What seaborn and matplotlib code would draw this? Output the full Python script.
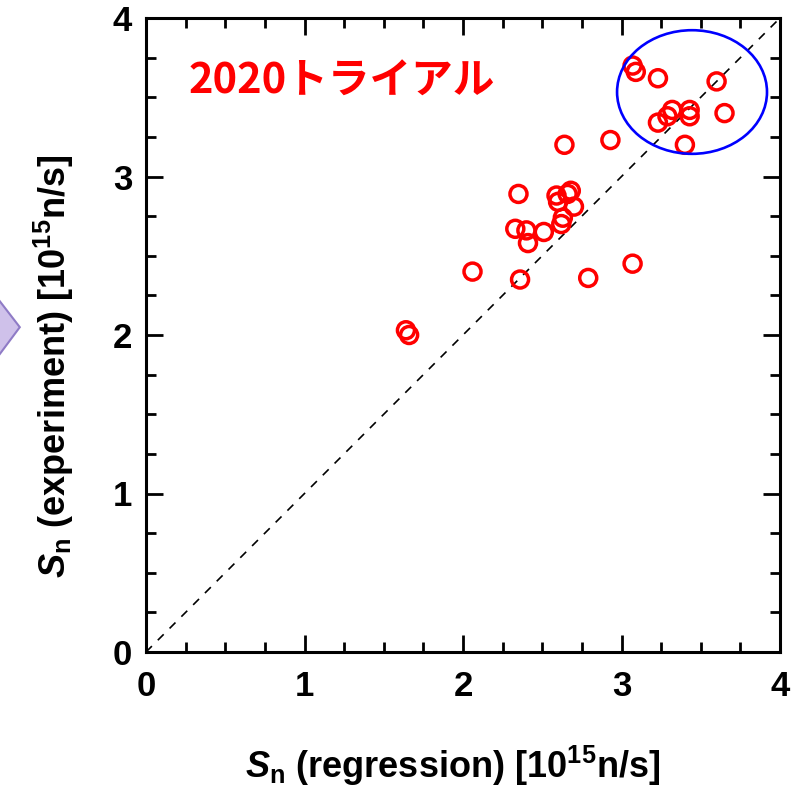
import matplotlib
matplotlib.use("Agg")
import matplotlib.pyplot as plt
from matplotlib.patches import Ellipse, Polygon
from matplotlib.ticker import MultipleLocator, FixedFormatter, FixedLocator
import seaborn as sns
import pandas as pd

# ---- data ----
s_regression = [1.64, 1.66, 2.06, 2.36, 2.79, 3.07, 2.33, 2.40, 2.41, 2.51,
                2.35, 2.59, 2.60, 2.66, 2.68, 2.70, 2.63, 2.62, 2.64, 2.93,
                3.07, 3.09, 3.23, 3.60, 3.65, 3.32, 3.29, 3.23, 3.43, 3.43, 3.40]
s_experiment = [2.03, 2.00, 2.40, 2.35, 2.36, 2.45, 2.67, 2.66, 2.58, 2.65,
                2.89, 2.88, 2.84, 2.89, 2.91, 2.81, 2.74, 2.70, 3.20, 3.23,
                3.70, 3.66, 3.62, 3.60, 3.40, 3.42, 3.38, 3.34, 3.42, 3.38, 3.20]
tick_values = [0, 1, 2, 3, 4]
tick_labels = ["0", "1", "2", "3", "4"]
identity_line = [0, 4]
highlight_center = (3.445, 3.533)
highlight_size = (0.946, 0.78)
title_text = "2020トライアル"
xlabel_text = r"$\mathit{S}_{\mathrm{n}}$ (regression) [10$^{\mathrm{15}}$n/s]"
ylabel_text = r"$\mathit{S}_{\mathrm{n}}$ (experiment) [10$^{\mathrm{15}}$n/s]"

df = pd.DataFrame({"reg": s_regression, "exp": s_experiment})

sns.set_style("ticks")
plt.rcParams["font.family"] = ["Liberation Sans", "DejaVu Sans"]
plt.rcParams["mathtext.fontset"] = "custom"
plt.rcParams["mathtext.rm"] = "Liberation Sans:bold"
plt.rcParams["mathtext.it"] = "Liberation Sans:italic:bold"
plt.rcParams["mathtext.bf"] = "Liberation Sans:bold"
plt.rcParams["text.color"] = "black"
plt.rcParams["axes.labelcolor"] = "black"
plt.rcParams["xtick.color"] = "black"
plt.rcParams["ytick.color"] = "black"
plt.rcParams["xtick.labelcolor"] = "black"
plt.rcParams["ytick.labelcolor"] = "black"

fig = plt.figure(figsize=(7.92, 7.98), dpi=100)
ax = fig.add_axes([146 / 792, 146 / 798, 634 / 792, 634 / 798])

# decorative slide arrow at the left edge
fig.add_artist(Polygon([(-0.02, 0.648), (0.025, 0.590), (-0.02, 0.530)],
                       closed=True, transform=fig.transFigure,
                       facecolor="#cfc1ea", edgecolor="#8f7bc6", linewidth=1.5))

ax.plot(identity_line, identity_line, color="black", linestyle=(0, (5, 5)),
        linewidth=1.2, zorder=1)

sns.scatterplot(data=df, x="reg", y="exp", ax=ax, marker="o", s=150,
                facecolors="none", edgecolor="#ff0000", linewidth=2.5,
                zorder=3, legend=False)

ax.add_patch(Ellipse(highlight_center, highlight_size[0], highlight_size[1],
                     facecolor="none", edgecolor="#0000ff", linewidth=1.9,
                     zorder=4))

ax.text(0.27, 3.6, title_text, color="#ff0000", fontsize=30,
        fontweight="bold", va="center", ha="left",
        family=["Noto Sans CJK JP", "DejaVu Sans"])

ax.set_xlim(0, 4)
ax.set_ylim(0, 4)
ax.xaxis.set_major_locator(FixedLocator(tick_values))
ax.yaxis.set_major_locator(FixedLocator(tick_values))
ax.xaxis.set_major_formatter(FixedFormatter(tick_labels))
ax.yaxis.set_major_formatter(FixedFormatter(tick_labels))
ax.xaxis.set_minor_locator(MultipleLocator(0.25))
ax.yaxis.set_minor_locator(MultipleLocator(0.25))

ax.tick_params(which="both", direction="in", top=True, right=True, width=2.0,
               color="black")
ax.tick_params(which="major", length=12)
ax.tick_params(which="minor", length=7)
ax.tick_params(axis="x", which="major", pad=13, labelsize=25)
ax.tick_params(axis="y", which="major", pad=10, labelsize=25)
for lab in ax.get_xticklabels() + ax.get_yticklabels():
    lab.set_fontweight("bold")

for sp in ax.spines.values():
    sp.set_linewidth(2.2)
    sp.set_color("black")

ax.set_xlabel(xlabel_text, fontsize=26, fontweight="bold")
ax.set_ylabel(ylabel_text, fontsize=26, fontweight="bold")
ax.xaxis.set_label_coords(0.484, -0.145)
ax.yaxis.set_label_coords(-0.11, 0.45)

fig.savefig("out.png", dpi=100)
